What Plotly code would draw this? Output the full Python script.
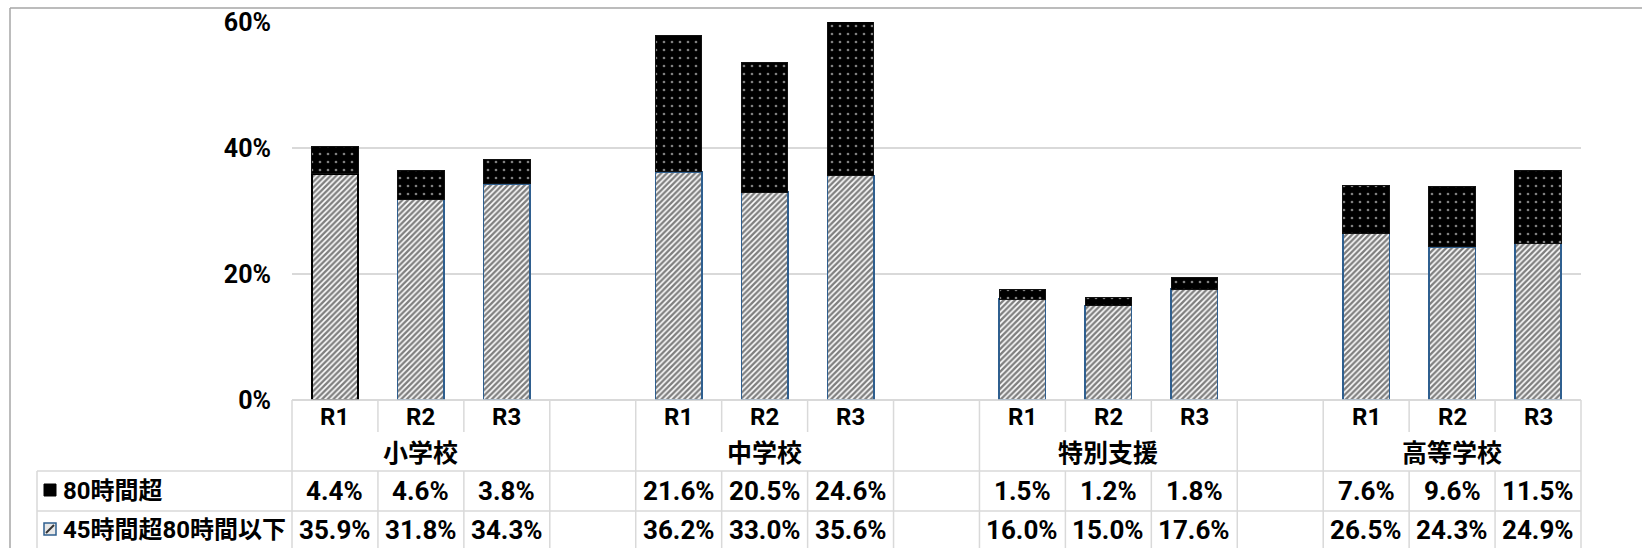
import plotly.graph_objects as go

# ---------------- data ----------------
groups = ["小学校", "中学校", "特別支援", "高等学校"]
years = ["R1", "R2", "R3"]
series_names = ["80時間超", "45時間超80時間以下"]
over80 = [4.4, 4.6, 3.8, 21.6, 20.5, 24.6, 1.5, 1.2, 1.8, 7.6, 9.6, 11.5]
mid45 = [35.9, 31.8, 34.3, 36.2, 33.0, 35.6, 16.0, 15.0, 17.6, 26.5, 24.3, 24.9]
y_ticks = [0, 20, 40, 60]

# ---------------- layout helpers ----------------
W, H = 1642, 548
def px(x):
    return x / W
def py(y):
    return 1 - y / H

PLOT_L, PLOT_R, PLOT_T, PLOT_B = 292, 1581, 22, 400
slots = len(groups) * (len(years) + 1) - 1
colw = (PLOT_R - PLOT_L) / slots

NUM_FONT = "Roboto, Noto Sans CJK JP, sans-serif"
JP_FONT = "Roboto, Noto Sans CJK JP, sans-serif"
GRID = "#D9D9D9"
BLUE_EDGE = "#2F5F8F"

# x positions (slot indices) for every bar
xs = []
for g in range(len(groups)):
    for k in range(len(years)):
        xs.append(g * (len(years) + 1) + k)

mid_edges = ["#000000" if i == 0 else BLUE_EDGE for i in range(len(xs))]

fig = go.Figure()
fig.add_trace(go.Bar(
    x=xs, y=mid45, name=series_names[1], width=0.54,
    marker=dict(
        color="white",
        pattern=dict(shape="/", fgcolor="#000000", bgcolor="white", size=4, solidity=0.6),
        line=dict(color=mid_edges, width=1.5),
    ),
    hoverinfo="skip", cliponaxis=True,
))
fig.add_trace(go.Bar(
    x=xs, y=over80, name=series_names[0], width=0.54,
    marker=dict(
        color="black",
        pattern=dict(shape=".", fgcolor="#ffffff", bgcolor="black", size=8, solidity=0.09),
        line=dict(color="#111111", width=1),
    ),
    hoverinfo="skip", cliponaxis=True,
))

fig.update_layout(
    width=W, height=H,
    margin=dict(l=0, r=0, t=0, b=0, autoexpand=False),
    paper_bgcolor="white", plot_bgcolor="white",
    barmode="stack", showlegend=False,
    xaxis=dict(
        domain=[px(PLOT_L), px(PLOT_R)],
        range=[-0.5, slots - 0.5],
        showticklabels=False, showgrid=False, zeroline=False,
        showline=False, fixedrange=True, automargin=False,
    ),
    yaxis=dict(
        domain=[py(PLOT_B), py(PLOT_T)],
        range=[0, 60],
        tickvals=y_ticks,
        ticktext=[f"{v}%" for v in y_ticks],
        tickfont=dict(family=NUM_FONT, size=25, color="black", weight="bold"),
        ticklabelstandoff=20,
        showgrid=True, gridcolor=GRID, gridwidth=1.5,
        zeroline=True, zerolinecolor=GRID, zerolinewidth=1.5,
        showline=False, ticks="", fixedrange=True, automargin=False,
    ),
)

shapes = []
def hline(x0, x1, y, color=GRID, width=1.5):
    shapes.append(dict(type="line", xref="paper", yref="paper",
                       x0=px(x0), x1=px(x1), y0=py(y), y1=py(y),
                       line=dict(color=color, width=width)))
def vline(x, y0, y1, color=GRID, width=1.5):
    shapes.append(dict(type="line", xref="paper", yref="paper",
                       x0=px(x), x1=px(x), y0=py(y0), y1=py(y1),
                       line=dict(color=color, width=width)))

# outer chart frame
hline(10, W + 5, 8, color="#A6A6A6", width=1.5)
vline(10, 8, H + 5, color="#A6A6A6", width=1.5)

# data table
ROW_TOP, ROW_R, ROW_G, ROW_1, ROW_BOT = 400, 432, 471, 511, H + 5
hline(PLOT_L, PLOT_R, ROW_TOP)
hline(37, PLOT_R, ROW_G)
hline(37, PLOT_R, ROW_1)
vline(37, ROW_G, ROW_BOT)
vline(PLOT_L, ROW_TOP, ROW_BOT)
for i in range(1, slots + 1):
    x = PLOT_L + i * colw
    inner = i < slots and (i - 1) % 4 != 3 and i % 4 != 3
    if inner:
        vline(x, ROW_TOP, ROW_R)
        vline(x, ROW_G, ROW_BOT)
    else:
        vline(x, ROW_TOP, ROW_BOT)

# legend keys in table
shapes.append(dict(type="rect", xref="paper", yref="paper",
                   x0=px(44), x1=px(56), y0=py(496), y1=py(484),
                   fillcolor="black", line=dict(color="black", width=1)))
shapes.append(dict(type="rect", xref="paper", yref="paper",
                   x0=px(44), x1=px(56), y0=py(535), y1=py(523),
                   fillcolor="#E8E8E8", line=dict(color=BLUE_EDGE, width=1.5)))
shapes.append(dict(type="line", xref="paper", yref="paper",
                   x0=px(46), x1=px(54), y0=py(533), y1=py(525),
                   line=dict(color="#333333", width=2)))

annotations = []
def text(x, y, s, size, family, anchor="center"):
    annotations.append(dict(x=px(x), y=py(y), xref="paper", yref="paper",
                            text=f"<b>{s}</b>", showarrow=False,
                            xanchor=anchor, yanchor="middle",
                            font=dict(family=family, size=size, color="black")))

for g, gname in enumerate(groups):
    for k, yr in enumerate(years):
        idx = g * len(years) + k
        cx = PLOT_L + (xs[idx] + 0.5) * colw
        text(cx, 417, yr, 24, NUM_FONT)
        text(cx, 491, f"{over80[idx]:.1f}%", 26, NUM_FONT)
        text(cx, 530, f"{mid45[idx]:.1f}%", 26, NUM_FONT)
    gx = PLOT_L + (g * (len(years) + 1) + len(years) / 2) * colw
    text(gx, 453, gname, 25, JP_FONT)

text(61, 491, series_names[0], 24, JP_FONT, anchor="left")
text(61, 530, series_names[1], 24, JP_FONT, anchor="left")

fig.update_layout(shapes=shapes, annotations=annotations)
fig.write_html("out.html")
